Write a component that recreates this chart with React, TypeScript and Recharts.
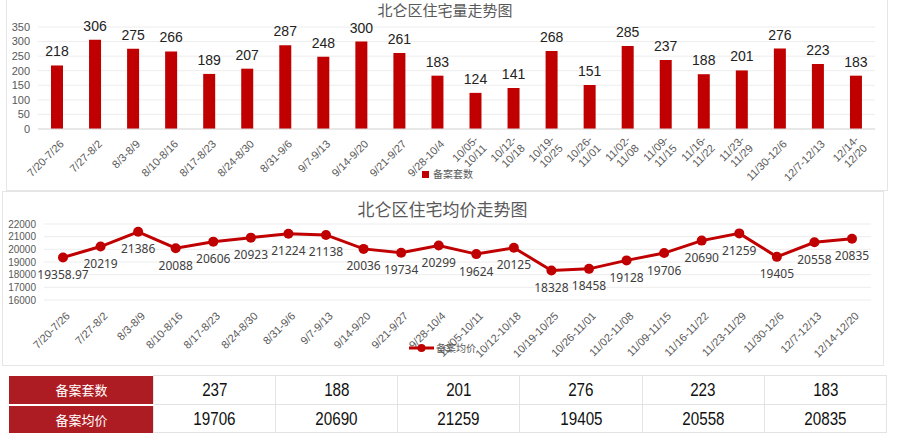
import React from "react";
import {
  BarChart,
  Bar,
  LineChart,
  Line,
  XAxis,
  YAxis,
  CartesianGrid,
  LabelList,
} from "recharts";

const weeks = [
  "7/20-7/26",
  "7/27-8/2",
  "8/3-8/9",
  "8/10-8/16",
  "8/17-8/23",
  "8/24-8/30",
  "8/31-9/6",
  "9/7-9/13",
  "9/14-9/20",
  "9/21-9/27",
  "9/28-10/4",
  "10/05-10/11",
  "10/12-10/18",
  "10/19-10/25",
  "10/26-11/01",
  "11/02-11/08",
  "11/09-11/15",
  "11/16-11/22",
  "11/23-11/29",
  "11/30-12/6",
  "12/7-12/13",
  "12/14-12/20",
];

const units = [
  218, 306, 275, 266, 189, 207, 287, 248, 300, 261, 183, 124, 141, 268, 151,
  285, 237, 188, 201, 276, 223, 183,
];

const prices = [
  19358.97, 20219, 21386, 20088, 20606, 20923, 21224, 21138, 20036, 19734,
  20299, 19624, 20125, 18328, 18458, 19128, 19706, 20690, 21259, 19405, 20558,
  20835,
];

const unitTicks = [0, 50, 100, 150, 200, 250, 300, 350];
const priceTicks = [16000, 17000, 18000, 19000, 20000, 21000, 22000];

const unitsName = "备案套数";
const priceName = "备案均价";
const tableCols = 6;

const RED = "#C00000";
const GREY = "#595959";
const LATIN = "'Liberation Sans', Arial, sans-serif";
const CJK = "'Noto Sans CJK SC', sans-serif";

const data = weeks.map((w, i) => ({ week: w, units: units[i], price: prices[i] }));

function BarTick(props: any) {
  const { x, y, payload } = props;
  const s: string = payload.value;
  const cut = s.indexOf("-") + 1;
  const lines = s.length > 10 ? [s.slice(0, cut), s.slice(cut)] : [s];
  return (
    <g transform={`translate(${x + 2},${y + 2})`}>
      <text transform="rotate(-45)" textAnchor="end" fontSize={11} fill={GREY} fontFamily={LATIN}>
        {lines.map((l, i) => (
          <tspan key={i} x={0} dy={i === 0 ? (lines.length > 1 ? 2 : 8) : 12}>
            {l}
          </tspan>
        ))}
      </text>
    </g>
  );
}

function LineTick(props: any) {
  const { x, y, payload } = props;
  return (
    <g transform={`translate(${x + 2},${y + 3})`}>
      <text transform="rotate(-45)" textAnchor="end" dy={8} fontSize={11} fill={GREY} fontFamily={LATIN}>
        {payload.value}
      </text>
    </g>
  );
}

const panel = (left: number, top: number, width: number, height: number): React.CSSProperties => ({
  position: "absolute",
  left,
  top,
  width,
  height,
  border: "1px solid #E6E6E6",
  boxSizing: "border-box",
  background: "#fff",
});

export default function App() {
  const tail = data.slice(-tableCols);
  const cell: React.CSSProperties = {
    border: "1px solid #E3E3E3",
    textAlign: "center",
    padding: 0,
    fontFamily: LATIN,
    fontSize: 19,
    color: "#111",
  };
  const num: React.CSSProperties = { display: "inline-block", transform: "scaleX(0.8)" };
  const head: React.CSSProperties = {
    background: "#AD1C22",
    color: "#fff",
    textAlign: "center",
    fontFamily: CJK,
    fontSize: 13,
    width: 143,
    padding: 0,
    borderLeft: "1px solid #AD1C22",
  };

  return (
    <div style={{ position: "absolute", left: 0, top: 0, width: 901, height: 443, background: "#fff", overflow: "hidden" }}>
      <div style={panel(6, -2, 882, 193)} />
      <div style={panel(2, 191, 882, 175)} />

      <div style={{ position: "absolute", left: 0, top: 0 }}>
        <BarChart width={880} height={190} data={data} margin={{ top: 27, right: 5, left: 0, bottom: 0 }}>
          <CartesianGrid vertical={false} stroke="#EDEDED" />
          <XAxis
            dataKey="week"
            interval={0}
            height={61}
            tickLine={false}
            axisLine={{ stroke: "#D9D9D9" }}
            tick={<BarTick />}
          />
          <YAxis
            width={38}
            domain={[0, 350]}
            ticks={unitTicks}
            interval={0}
            tickLine={false}
            axisLine={false}
            tickMargin={2}
            tick={{ fontSize: 11, fill: GREY, fontFamily: LATIN }}
          />
          <Bar dataKey="units" fill={RED} barSize={12} isAnimationActive={false}>
            <LabelList dataKey="units" position="top" offset={9} fill="#222" fontSize={14} fontFamily={LATIN} />
          </Bar>
        </BarChart>
      </div>

      <div style={{ position: "absolute", left: 0, top: 190 }}>
        <LineChart width={883} height={175} data={data} margin={{ top: 34, right: 12, left: 0, bottom: 0 }}>
          <CartesianGrid vertical={false} stroke="#EDEDED" />
          <XAxis
            dataKey="week"
            interval={0}
            height={65}
            padding={{ left: 19, right: 19 }}
            tickLine={false}
            axisLine={false}
            tick={<LineTick />}
          />
          <YAxis
            width={44}
            domain={[16000, 22000]}
            ticks={priceTicks}
            interval={0}
            tickLine={false}
            axisLine={false}
            tickMargin={2}
            tick={{ fontSize: 10, fill: GREY, fontFamily: LATIN }}
          />
          <Line
            dataKey="price"
            stroke={RED}
            strokeWidth={3}
            dot={{ r: 5, fill: RED, stroke: RED, strokeWidth: 0 }}
            activeDot={false}
            isAnimationActive={false}
          >
            <LabelList dataKey="price" position="bottom" offset={13} fill="#404040" fontSize={12} fontFamily="'Noto Sans', sans-serif" />
          </Line>
        </LineChart>
      </div>

      {/* titles */}
      <div style={{ position: "absolute", left: 0, width: 890, top: 1, textAlign: "center", fontFamily: CJK, fontSize: 15, color: GREY, lineHeight: "18px" }}>
        北仑区住宅量走势图
      </div>
      <div style={{ position: "absolute", left: 0, width: 885, top: 199, textAlign: "center", fontFamily: CJK, fontSize: 17, color: GREY, lineHeight: "20px" }}>
        北仑区住宅均价走势图
      </div>

      {/* legends */}
      <div style={{ position: "absolute", left: 422, top: 167, display: "flex", alignItems: "center", fontFamily: CJK, fontSize: 10, color: GREY, lineHeight: "14px" }}>
        <span style={{ width: 7, height: 7, background: RED, marginRight: 4, display: "inline-block" }} />
        {unitsName}
      </div>
      <div style={{ position: "absolute", left: 409, top: 341, display: "flex", alignItems: "center", fontFamily: CJK, fontSize: 10, color: GREY, lineHeight: "14px" }}>
        <svg width={25} height={10} style={{ marginRight: 2 }}>
          <line x1={0} y1={5} x2={25} y2={5} stroke={RED} strokeWidth={3} />
          <circle cx={12.5} cy={5} r={4} fill={RED} />
        </svg>
        {priceName}
      </div>

      {/* table */}
      <table
        style={{
          position: "absolute",
          left: 9,
          top: 375,
          width: 878,
          borderCollapse: "collapse",
          tableLayout: "fixed",
        }}
      >
        <tbody>
          <tr style={{ height: 29 }}>
            <td style={{ ...head, borderBottom: "2px solid #fff" }}>{unitsName}</td>
            {tail.map((d) => (
              <td key={d.week} style={cell}>
                <span style={num}>{d.units}</span>
              </td>
            ))}
          </tr>
          <tr style={{ height: 28 }}>
            <td style={head}>{priceName}</td>
            {tail.map((d) => (
              <td key={d.week} style={cell}>
                <span style={num}>{d.price}</span>
              </td>
            ))}
          </tr>
        </tbody>
      </table>
    </div>
  );
}
